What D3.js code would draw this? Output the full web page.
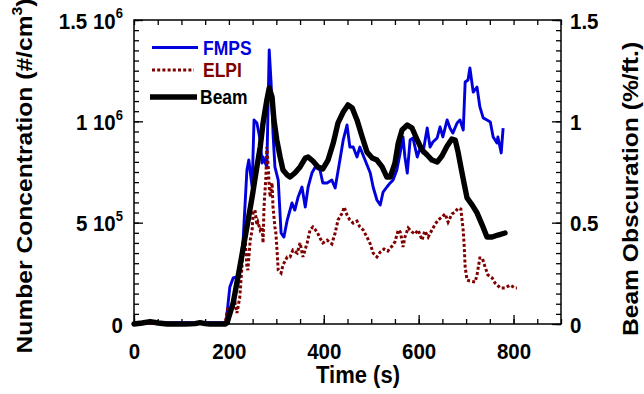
<!DOCTYPE html>
<html><head><meta charset="utf-8">
<script src="https://cdn.jsdelivr.net/npm/d3@7"></script>
<style>
body{margin:0;background:#fff;}
text{font-family:"Liberation Sans",Arial,Helvetica,sans-serif;font-weight:bold;}
</style>
</head><body>
<svg id="chart" width="644" height="394"></svg>
<script>
// ---- data ----
const fmpsTime = [0,97,194,202,209,217,219,230,238,242,249,253,259,266,270,272,280,285,289,293,297,304,310,316,323,333,339,346,354,361,367,375,382,392,398,407,417,424,434,441,449,455,462,470,476,487,498,504,512,519,525,533,540,546,554,561,567,571,576,582,588,597,603,609,618,624,630,639,645,651,660,666,672,681,687,694,698,704,708,715,723,729,736,744,751,757,765,767,774,778];
const fmpsConc = [7000,7000,7000,183000,227000,232000,192000,414000,760000,809000,676000,1007000,992000,908000,794000,824000,775000,1352000,1189000,942000,775000,710000,449000,429000,513000,597000,562000,627000,676000,577000,676000,745000,775000,760000,696000,696000,710000,671000,809000,908000,982000,873000,873000,824000,873000,809000,745000,676000,612000,587000,651000,676000,696000,710000,760000,844000,923000,824000,745000,908000,918000,824000,868000,844000,967000,873000,898000,918000,972000,923000,1007000,967000,942000,992000,1007000,957000,1194000,1204000,1263000,1144000,1169000,1071000,1017000,1007000,997000,923000,893000,923000,844000,967000];
const elpiTime = [0,97,192,198,207,213,217,223,230,234,238,240,245,249,251,255,259,261,266,270,272,274,278,280,283,285,287,291,293,297,299,301,304,310,314,323,329,335,344,350,356,365,371,377,386,392,398,407,417,424,430,439,443,449,455,462,470,476,483,491,498,504,512,519,527,535,544,550,557,561,565,567,571,578,586,592,599,607,613,620,628,635,641,649,656,662,670,677,683,689,694,696,698,702,708,719,723,729,734,740,746,755,761,772,782,793,803,807];
const elpiConc = [3000,3000,3000,84000,69000,104000,54000,133000,365000,429000,281000,266000,414000,464000,548000,562000,488000,503000,464000,479000,400000,577000,725000,873000,775000,676000,627000,696000,577000,479000,449000,380000,266000,252000,291000,331000,331000,365000,350000,400000,331000,400000,464000,479000,454000,424000,400000,414000,395000,449000,513000,548000,577000,538000,513000,498000,508000,479000,464000,429000,395000,350000,331000,355000,370000,360000,385000,405000,464000,454000,414000,380000,429000,474000,454000,444000,464000,414000,459000,429000,464000,493000,513000,528000,543000,503000,543000,553000,572000,567000,459000,385000,281000,217000,212000,207000,242000,326000,326000,281000,242000,227000,202000,178000,178000,192000,178000,178000];
const beamTime = [0,17,34,51,70,108,129,139,150,160,192,196,209,223,238,249,259,266,272,280,285,291,295,301,308,314,323,329,339,350,361,367,377,388,398,409,420,430,441,451,460,470,481,491,502,512,523,533,540,550,557,565,576,586,597,607,618,628,639,649,660,670,677,683,689,696,702,713,723,734,744,755,767,782];
const beamObsc = [0,0.005,0.012,0.005,0,0,0.002,0.007,0.002,0,0,0.005,0.104,0.281,0.479,0.627,0.775,0.873,0.992,1.105,1.164,1.12,1.007,0.908,0.824,0.76,0.735,0.725,0.745,0.775,0.819,0.824,0.804,0.775,0.765,0.809,0.893,0.992,1.046,1.081,1.066,1.007,0.923,0.849,0.819,0.809,0.775,0.725,0.725,0.794,0.893,0.957,0.982,0.967,0.908,0.859,0.834,0.809,0.799,0.829,0.878,0.913,0.908,0.849,0.775,0.691,0.622,0.587,0.548,0.488,0.429,0.429,0.439,0.449];

const xMajorTicks = [0,200,400,600,800];
const xMinorTicks = [0,50,100,150,200,250,300,350,400,450,500,550,600,650,700,750,800,850,900];
const leftMajorTicks = [0,500000,1000000,1500000];
const leftTickMantissa = ["0","5","1","1.5"];
const leftTickExponent = ["","5","6","6"];
const rightMajorTicks = [0,0.5,1,1.5];
const rightTickLabels = ["0","0.5","1","1.5"];
const seriesNames = ["FMPS","ELPI","Beam"];
const seriesColors = ["#0000dd","#800000","#000000"];

// ---- layout ----
const L = 134, R = 561, T = 20, B = 324;
const SY = 1.12; // vertical text stretch
const svg = d3.select("#chart");

const x = d3.scaleLinear().domain([0,900]).range([L,R]);
const yL = d3.scaleLinear().domain([0,1500000]).range([B,T]);
const yR = d3.scaleLinear().domain([0,1.5]).range([B,T]);

const leftMinor = d3.range(0,1500001,50000);
const rightMinor = d3.range(0,31).map(i=>i*0.05);

function styleAxis(g){ g.select(".domain").remove(); g.selectAll("line").attr("stroke","#000").attr("stroke-width",1.3); }

// bottom minor + major
svg.append("g").attr("transform",`translate(0,${B})`)
  .call(d3.axisBottom(x).tickValues(xMinorTicks).tickSizeInner(-5).tickSizeOuter(0).tickFormat(""))
  .call(styleAxis);
const xAx = svg.append("g").attr("transform",`translate(0,${B})`)
  .call(d3.axisBottom(x).tickValues(xMajorTicks).tickSizeInner(-9).tickSizeOuter(0).tickFormat(d3.format("d")))
  .call(styleAxis);
xAx.selectAll(".tick text").attr("y",0).attr("dy",0)
  .attr("transform",`translate(0,35) scale(1,${SY})`)
  .attr("font-size",20.5).attr("font-family","Liberation Sans, Arial, sans-serif").attr("font-weight","bold").attr("fill","#000");
// top
svg.append("g").attr("transform",`translate(0,${T})`)
  .call(d3.axisTop(x).tickValues(xMinorTicks).tickSizeInner(-5).tickSizeOuter(0).tickFormat(""))
  .call(styleAxis);

// left
svg.append("g").attr("transform",`translate(${L},0)`)
  .call(d3.axisLeft(yL).tickValues(leftMinor).tickSizeInner(-5).tickSizeOuter(0).tickFormat(""))
  .call(styleAxis);
const yAxL = svg.append("g").attr("transform",`translate(${L},0)`)
  .call(d3.axisLeft(yL).tickValues(leftMajorTicks).tickSizeInner(-9).tickSizeOuter(0).tickFormat(""))
  .call(styleAxis);
yAxL.selectAll(".tick text").each(function(d,i){
  const t = d3.select(this);
  t.attr("x",0).attr("y",0).attr("dy",0).attr("text-anchor","end")
   .attr("transform",`translate(-11,8) scale(1,${SY})`)
   .attr("font-size",20.5).attr("font-family","Liberation Sans, Arial, sans-serif").attr("font-weight","bold").attr("fill","#000");
  if(leftTickExponent[i]){
    t.append("tspan").text(leftTickMantissa[i]+" 10");
    t.append("tspan").attr("font-size",13).attr("dy",-9).text(leftTickExponent[i]);
  } else {
    t.text(leftTickMantissa[i]);
  }
});

// right
svg.append("g").attr("transform",`translate(${R},0)`)
  .call(d3.axisRight(yR).tickValues(rightMinor).tickSizeInner(-5).tickSizeOuter(0).tickFormat(""))
  .call(styleAxis);
const yAxR = svg.append("g").attr("transform",`translate(${R},0)`)
  .call(d3.axisRight(yR).tickValues(rightMajorTicks).tickSizeInner(-9).tickSizeOuter(0).tickFormat((d,i)=>rightTickLabels[i]))
  .call(styleAxis);
yAxR.selectAll(".tick text").attr("x",0).attr("y",0).attr("dy",0).attr("text-anchor","start")
  .attr("transform",`translate(9,8) scale(1,${SY})`)
  .attr("font-size",20.5).attr("font-family","Liberation Sans, Arial, sans-serif").attr("font-weight","bold").attr("fill","#000");

// frame
svg.append("rect").attr("x",L).attr("y",T).attr("width",R-L).attr("height",B-T)
  .attr("fill","none").attr("stroke","#000").attr("stroke-width",1.5);

// ---- lines ----
const lineL = d3.line().x(d=>x(d[0])).y(d=>yL(d[1]));
const lineR = d3.line().x(d=>x(d[0])).y(d=>yR(d[1]));

svg.append("path").datum(d3.zip(fmpsTime,fmpsConc)).attr("d",lineL)
  .attr("fill","none").attr("stroke",seriesColors[0]).attr("stroke-width",2.9).attr("stroke-linejoin","round");
svg.append("path").datum(d3.zip(elpiTime,elpiConc)).attr("d",lineL)
  .attr("fill","none").attr("stroke",seriesColors[1]).attr("stroke-width",3).attr("stroke-dasharray","3,2.2");
svg.append("path").datum(d3.zip(beamTime,beamObsc)).attr("d",lineR)
  .attr("fill","none").attr("stroke",seriesColors[2]).attr("stroke-width",5.4).attr("stroke-linejoin","round").attr("stroke-linecap","round");

// ---- legend ----
const legY = [47.5,70,97];
const legX1 = [152,152,150], legX2 = [198,194,197], legTX = [203,203,200];
const legW = [3,3,5.6], legDash = [null,"3,2.2",null];
seriesNames.forEach((n,i)=>{
  svg.append("line").attr("x1",legX1[i]).attr("x2",legX2[i]).attr("y1",legY[i]).attr("y2",legY[i])
    .attr("stroke",seriesColors[i]).attr("stroke-width",legW[i]).attr("stroke-dasharray",legDash[i]);
  svg.append("text").attr("transform",`translate(${legTX[i]},${legY[i]+7}) scale(1,${SY})`)
    .attr("font-size",17.5).attr("fill",seriesColors[i]).text(n);
});

// ---- axis titles ----
svg.append("text").attr("transform",`translate(358,383) scale(1,${SY})`)
  .attr("text-anchor","middle").attr("font-size",22).text("Time (s)");

const lt = svg.append("text").attr("transform",`translate(32,176) rotate(-90) scale(${SY},1)`)
  .attr("text-anchor","middle").attr("font-size",22);
lt.append("tspan").text("Number Concentration (#/cm");
lt.append("tspan").attr("font-size",14).attr("dy",-10).text("3");
lt.append("tspan").attr("dy",10).text(")");

svg.append("text").attr("transform",`translate(638,189) rotate(-90) scale(${SY},1)`)
  .attr("text-anchor","middle").attr("font-size",22).text("Beam Obscuration (%/ft.)");
</script>
</body></html>
